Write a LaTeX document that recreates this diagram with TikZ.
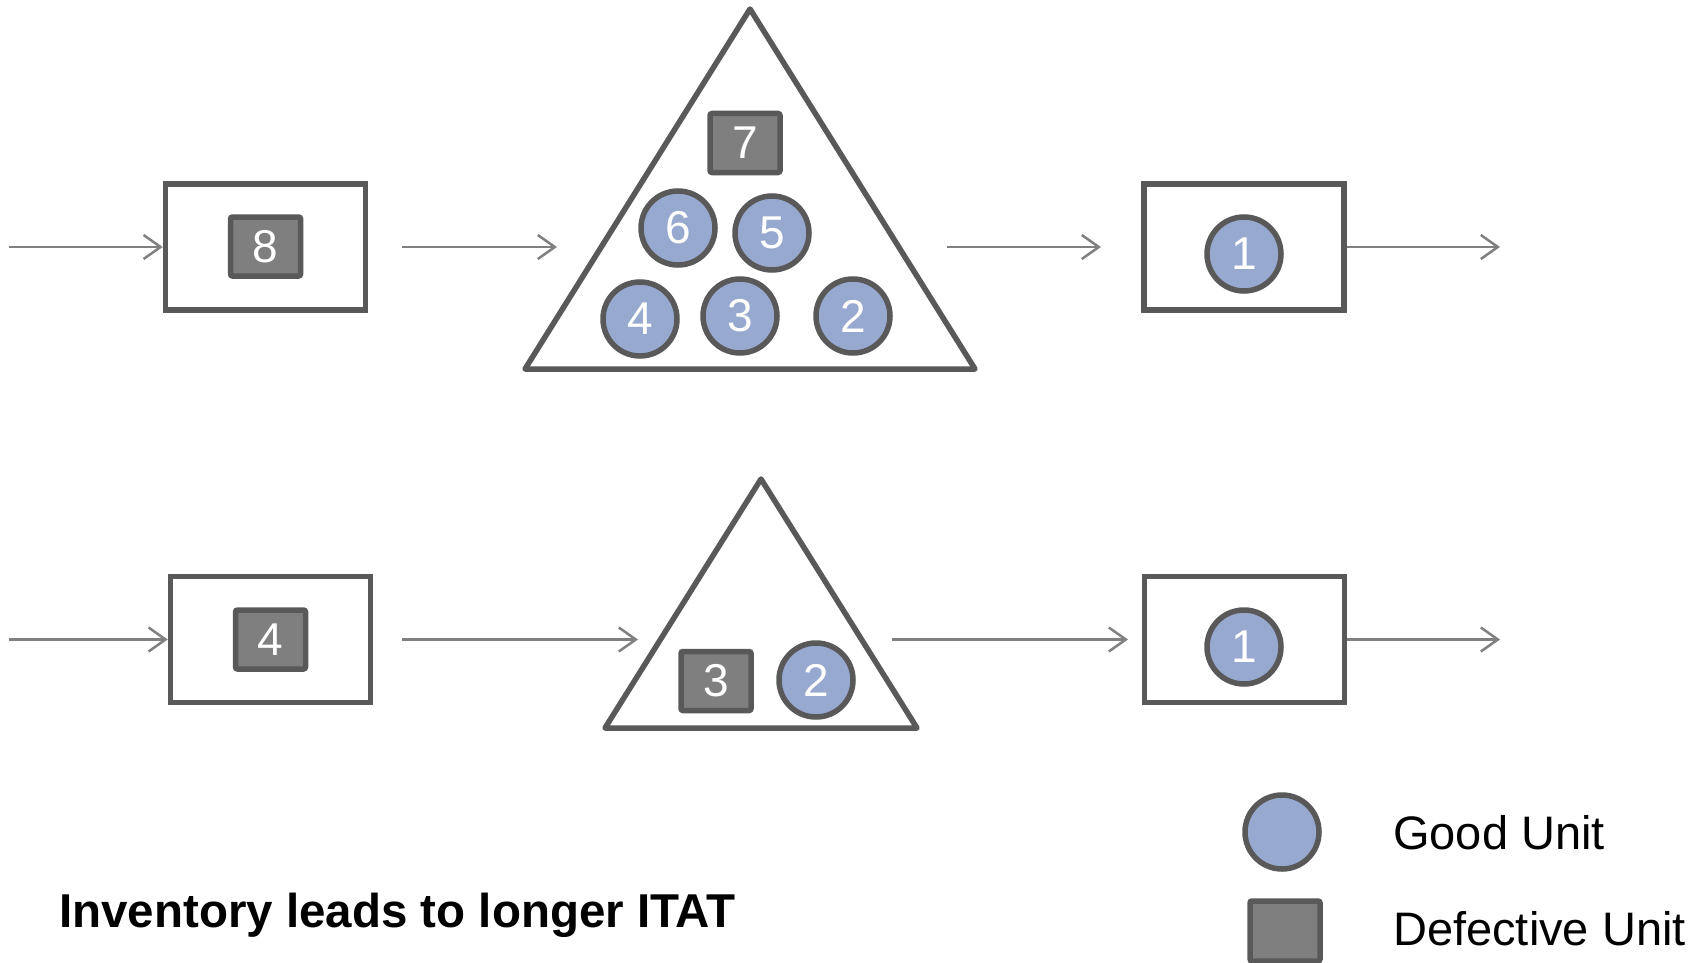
\documentclass[tikz,border=0pt]{standalone}
\usepackage{fontspec}
\setmainfont{Liberation Sans}
\usetikzlibrary{arrows.meta}
\definecolor{edgegray}{HTML}{595959}
\definecolor{fillgray}{HTML}{7F7F7F}
\definecolor{goodblue}{HTML}{98A9D0}
\definecolor{flowgray}{HTML}{808080}

\begin{document}
\begin{tikzpicture}[x=1pt,y=-1pt,
  station/.style={draw=edgegray, line width=5.5pt, rectangle,
    minimum width=200pt, minimum height=126pt, inner sep=0pt},
  good/.style={circle, draw=edgegray, line width=5.5pt, fill=goodblue,
    minimum size=74pt, inner sep=0pt, text=white,
    font=\fontsize{46}{46}\selectfont},
  bad/.style={rectangle, rounded corners=2pt, draw=edgegray, line width=5.5pt,
    fill=fillgray, minimum width=70pt, minimum height=59pt, inner sep=0pt,
    text=white, font=\fontsize{46}{46}\selectfont},
  buffer/.style={draw=edgegray, line width=5.5pt, line join=round},
  flow/.style={draw=flowgray, line width=2.5pt,
    -{Straight Barb[length=17pt,width=24pt]}},
  legendtext/.style={anchor=base west, inner sep=0pt,
    font=\fontsize{47}{56}\selectfont}
]
\useasboundingbox (0,0) rectangle (1705,963);

% ---- upper line: large buffer ----
\node[station] (s1) at (265.5,247) {};
\node[bad] (u8) at (265.5,246.5) {8};

\coordinate (t1top) at (750,9);
\coordinate (t1left) at (525,369);
\coordinate (t1right) at (975,369);
\draw[buffer] (t1top) -- (t1left) -- (t1right) -- cycle;
\node[bad]  (u7) at (745,143) {7};
\node[good] (u6) at (678,228) {6};
\node[good] (u5) at (772,233) {5};
\node[good] (u4) at (640,319) {4};
\node[good] (u3) at (740,316) {3};
\node[good] (u2) at (853,316) {2};

\node[station] (s2) at (1244,247) {};
\node[good] (u1) at (1244,254) {1};

\coordinate (a1in)  at (9,247);
\coordinate (a1out) at (402,247);
\coordinate (a1buf) at (557,247);
\coordinate (a1nxt) at (947,247);
\coordinate (a1st)  at (1101,247);
\coordinate (a1end) at (1500,247);
\draw[flow] (a1in) -- (s1.west);
\draw[flow] (a1out) -- (a1buf);
\draw[flow] (a1nxt) -- (a1st);
\draw[flow] (s2.east) -- (a1end);

% ---- lower line: small buffer ----
\node[station] (s3) at (270.5,639.5) {};
\node[bad] (v4) at (270.5,639.5) {4};

\coordinate (t2top) at (761,479);
\coordinate (t2left) at (605,728);
\coordinate (t2right) at (917,728);
\draw[buffer] (t2top) -- (t2left) -- (t2right) -- cycle;
\node[bad]  (v3) at (716,681) {3};
\node[good] (v2) at (816,680) {2};

\node[station] (s4) at (1244.5,639.5) {};
\node[good] (v1) at (1244,647) {1};

\coordinate (a2in)  at (9,639.5);
\coordinate (a2out) at (402,639.5);
\coordinate (a2buf) at (638,639.5);
\coordinate (a2nxt) at (892,639.5);
\coordinate (a2st)  at (1128,639.5);
\coordinate (a2end) at (1500,639.5);
\draw[flow] (a2in) -- (s3.west);
\draw[flow] (a2out) -- (a2buf);
\draw[flow] (a2nxt) -- (a2st);
\draw[flow] (s4.east) -- (a2end);

% ---- legend ----
\node[good] (lg) at (1282,832) {};
\node[legendtext] (lgt) at (1393,849) {Good Unit};
\node[bad, minimum width=70pt, minimum height=60pt] (lb) at (1285,931) {};
\node[legendtext] (lbt) at (1393,945) {Defective Unit};

% ---- caption ----
\node[anchor=base west, inner sep=0pt,
  font=\fontsize{47.5}{57}\selectfont\bfseries] (cap) at (59,927)
  {Inventory leads to longer ITAT};
\end{tikzpicture}
\end{document}
